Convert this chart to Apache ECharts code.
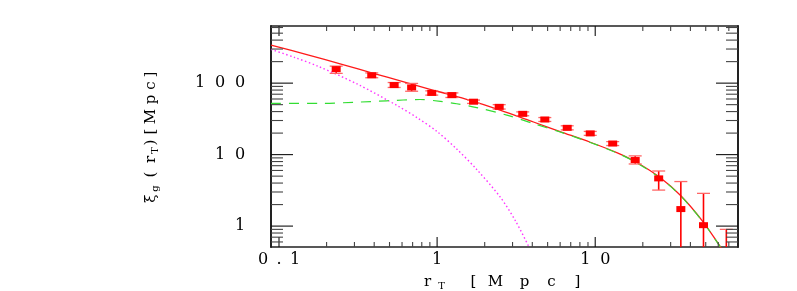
<!DOCTYPE html>
<html><head><meta charset="utf-8">
<script src="https://cdn.jsdelivr.net/npm/echarts@6/dist/echarts.min.js"></script>
<style>html,body{margin:0;padding:0;background:#fff}#c{width:797px;height:291px}</style>
</head><body><div id="c"></div>
<script>
// ---- data ----
const obsX  = [0.23, 0.386, 0.535, 0.69, 0.925, 1.24, 1.70, 2.47, 3.48, 4.8, 6.65, 9.3, 12.9, 17.9, 25.2, 34.8, 48.4, 67.5];
const obsY  = [157, 129, 94, 87, 73, 68, 55, 46.6, 37.2, 31, 23.7, 19.8, 14.3, 8.4, 4.65, 1.73, 1.03, 0.35];
const obsLo = [137, 119, 87, 77, 68, 63, 52, 43.4, 35, 29.1, 22.2, 18.6, 13.4, 7.4, 3.19, 0.05, 0.05, 0.05];
const obsHi = [173, 139, 102, 99, 78, 73, 58, 50, 39.6, 33, 25.3, 21.1, 15.2, 9.6, 5.9, 4.2, 2.87, 0.9];

const totalX = [0.089, 0.15, 0.25, 0.4, 0.6, 1.0, 1.5, 2.5, 4.07, 6.0, 9.3, 13.8, 17.9, 25.8, 34.8, 48.4, 62.4, 65.5];
const totalY = [340, 251, 183, 136, 106, 77, 60, 42, 28.6, 21.0, 14.9, 10.6, 8.0, 4.75, 2.66, 1.13, 0.5, 0.44];

const twoHaloX = [0.089, 0.18, 0.3, 0.48, 0.78, 1.05, 1.33, 1.78, 2.76, 4.07, 6.0, 9.3, 13.8, 17.9, 25.8, 34.8, 48.4, 62.4, 64.6];
const twoHaloY = [52, 52, 54, 56.6, 59, 55.5, 51.5, 45.5, 35.7, 27.2, 20.7, 14.8, 10.5, 7.9, 4.68, 2.63, 1.12, 0.497, 0.44];

const oneHaloX = [0.089, 0.126, 0.178, 0.316, 0.562, 0.75, 1.0, 1.33, 1.78, 2.51, 3.16, 3.98];
const oneHaloY = [297, 228, 171, 96, 48.2, 32.7, 21, 12, 6.2, 2.54, 1.14, 0.42];

const xRange = [0.089, 80];
const yRange = [0.51, 630];
const xTickValues = [0.1, 1, 10];
const xTickLabels = ['0.1', '1', '10'];
const yTickValues = [1, 10, 100];
const yTickLabels = ['1', '10', '100'];
const xMinorTicks = [0.2,0.3,0.4,0.5,0.6,0.7,0.8,0.9, 2,3,4,5,6,7,8,9, 20,30,40,50,60,70];
const yMinorTicks = [0.6,0.7,0.8,0.9, 2,3,4,5,6,7,8,9, 20,30,40,50,60,70,80,90, 200,300,400,500,600];

// ---- helpers ----
const FONT = 'DejaVu Serif';
function pairs(xs, ys) { return xs.map((x, i) => [x, ys[i]]); }
function labelFor(values, labels) {
  return function (v) {
    for (let i = 0; i < values.length; i++) {
      if (Math.abs(Math.log10(v) - Math.log10(values[i])) < 1e-6) {
        return labels[i].split('').map(ch => ch === '.' ? '{p|.}' : '{d|' + ch + '}').join('');
      }
    }
    return '';
  };
}
const labelRich = {
  d: { width: 20, align: 'center', fontSize: 16, fontFamily: FONT, color: '#000' },
  p: { width: 12, align: 'center', fontSize: 16, fontFamily: FONT, color: '#000' }
};
function box(w, extra) {
  return Object.assign({ width: w, align: 'center', fontSize: 15, fontFamily: FONT, color: '#000', lineHeight: 20 }, extra || {});
}
const subStyle = { fontSize: 10, lineHeight: 20, padding: [9, 0, 0, 0] };

// tick items: [xValue, yValue, isMajor]
const xTickItems = xTickValues.map(v => [v, 3, 1]).concat(xMinorTicks.map(v => [v, 3, 0]));
const yTickItems = yTickValues.map(v => [3, v, 1]).concat(yMinorTicks.map(v => [3, v, 0]));

function tickSeries(name, items, isX) {
  return {
    name: name, type: 'custom', xAxisIndex: 0, yAxisIndex: 0, silent: true, clip: false, z: 6,
    encode: { x: 0, y: 1 },
    dimensions: ['x', 'y', 'major'],
    data: items,
    renderItem: function (params, api) {
      const cs = params.coordSys;
      const major = api.value(2) === 1;
      const st = { stroke: major ? '#111' : '#444', lineWidth: 1.1 };
      const p = api.coord([api.value(0), api.value(1)]);
      if (isX) {
        const len = major ? 10 : 5;
        return { type: 'group', children: [
          { type: 'line', shape: { x1: p[0], y1: cs.y + cs.height, x2: p[0], y2: cs.y + cs.height - len }, style: st },
          { type: 'line', shape: { x1: p[0], y1: cs.y, x2: p[0], y2: cs.y + len }, style: Object.assign({}, st) }
        ] };
      }
      const len = major ? 22 : 12;
      return { type: 'group', children: [
        { type: 'line', shape: { x1: cs.x, y1: p[1], x2: cs.x + len, y2: p[1] }, style: st },
        { type: 'line', shape: { x1: cs.x + cs.width, y1: p[1], x2: cs.x + cs.width - len, y2: p[1] }, style: Object.assign({}, st) }
      ] };
    }
  };
}

const chart = echarts.init(document.getElementById('c'), null, { renderer: 'canvas' });
const axisLineW = (w) => ({ show: true, onZero: false, lineStyle: { color: '#222', width: w } });

chart.setOption({
  animation: false,
  backgroundColor: '#fff',
  grid: { left: 271, right: 59, top: 26, bottom: 44, containLabel: false, outerBoundsMode: 'none' },
  xAxis: [
    {
      type: 'log', logBase: 10, position: 'bottom', min: xRange[0], max: xRange[1],
      axisLine: axisLineW(1.5), axisTick: { show: false },
      minorTick: { show: false }, splitLine: { show: false },
      axisLabel: { show: true, interval: 0, margin: 5, showMinLabel: false, showMaxLabel: false,
        formatter: labelFor(xTickValues, xTickLabels), rich: labelRich, lineHeight: 16 },
      name: '{r|r}{s|T}{w| }{b1|[}{m|M}{p|p}{c|c}{b2|]}',
      nameLocation: 'middle', nameGap: 23,
      nameTextStyle: {
        rich: { r: box(16), s: box(12, subStyle), w: box(20), b1: box(12), m: box(32), p: box(26), c: box(28), b2: box(24) }
      }
    },
    {
      type: 'log', logBase: 10, position: 'top', min: xRange[0], max: xRange[1],
      axisLine: axisLineW(1.5), axisTick: { show: false },
      axisLabel: { show: false }, splitLine: { show: false }
    }
  ],
  yAxis: [
    {
      type: 'log', logBase: 10, position: 'left', min: yRange[0], max: yRange[1],
      axisLine: axisLineW(2), axisTick: { show: false },
      minorTick: { show: false }, splitLine: { show: false },
      axisLabel: { show: true, interval: 0, margin: 21, showMinLabel: false, showMaxLabel: false,
        formatter: labelFor(yTickValues, yTickLabels), rich: labelRich },
      name: '{a|ξ̄}{b|g}{c|(}{d|r}{e|T}{f|)}{g|[}{h|M}{i|p}{j|c}{k|]}',
      nameLocation: 'middle', nameRotate: 90, nameGap: 110,
      nameTextStyle: {
        rich: {
          a: box(12), b: box(8, subStyle), c: box(20), d: box(10), e: box(8, subStyle), f: box(8),
          g: box(14), h: box(16), i: box(18), j: box(10), k: box(12)
        }
      }
    },
    {
      type: 'log', logBase: 10, position: 'right', min: yRange[0], max: yRange[1],
      axisLine: axisLineW(2), axisTick: { show: false },
      axisLabel: { show: false }, splitLine: { show: false }
    }
  ],
  series: [
    tickSeries('ticksX', xTickItems, true),
    tickSeries('ticksY', yTickItems, false),
    {
      name: 'total', type: 'line', data: pairs(totalX, totalY), showSymbol: false, smooth: 0.3,
      clip: true, lineStyle: { color: '#ff1a1a', width: 1.3 }, z: 3
    },
    {
      name: 'oneHalo', type: 'line', data: pairs(oneHaloX, oneHaloY), showSymbol: false, smooth: 0.3,
      clip: true, lineStyle: { color: '#ff33ff', width: 1.4, type: [1.5, 2.5] }, z: 3
    },
    {
      name: 'twoHalo', type: 'line', data: pairs(twoHaloX, twoHaloY), showSymbol: false, smooth: 0.3,
      clip: true, lineStyle: { color: '#33dd33', width: 1.2, type: [10, 8] }, z: 4
    },
    {
      name: 'obs', type: 'custom', clip: true, z: 5,
      encode: { x: 0, y: 1 },
      data: obsX.map((x, i) => [x, obsY[i], obsLo[i], obsHi[i]]),
      renderItem: function (params, api) {
        const x = api.value(0);
        const c = api.coord([x, api.value(1)]);
        const lo = api.coord([x, api.value(2)]);
        const hi = api.coord([x, api.value(3)]);
        const cw = 6.5;
        return { type: 'group', children: [
          { type: 'line', shape: { x1: c[0], y1: lo[1], x2: c[0], y2: hi[1] }, style: { stroke: '#ff0000', lineWidth: 1.6 } },
          { type: 'line', shape: { x1: c[0] - cw, y1: hi[1], x2: c[0] + cw, y2: hi[1] }, style: { stroke: '#ff6666', lineWidth: 1.3 } },
          { type: 'line', shape: { x1: c[0] - cw, y1: lo[1], x2: c[0] + cw, y2: lo[1] }, style: { stroke: '#ff6666', lineWidth: 1.3 } },
          { type: 'rect', shape: { x: c[0] - 4.5, y: c[1] - 3, width: 9, height: 6 }, style: { fill: '#ff0000' } }
        ] };
      }
    }
  ]
});
</script>
</body></html>
